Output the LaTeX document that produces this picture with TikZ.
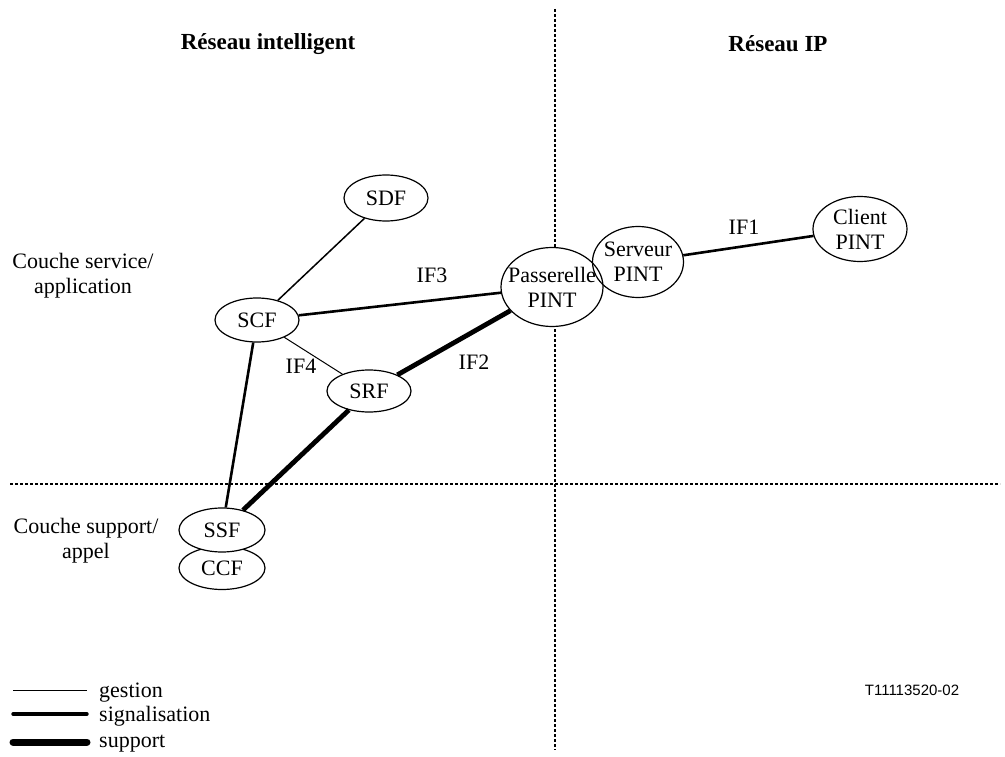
\documentclass[tikz,border=0pt]{standalone}
\usepackage{fontspec}
\setmainfont{Liberation Serif}
\newfontfamily\arialfont{Liberation Sans}
\usetikzlibrary{shapes.geometric}
\begin{document}
\begin{tikzpicture}[x=1pt,y=-1pt,
  every node/.style={font=\fontsize{22}{25}\selectfont},
  fn/.style={ellipse,draw,line width=1.2pt,fill=white,inner sep=0pt,align=center},
  fntwo/.style={ellipse,draw,line width=1.2pt,inner sep=0pt,
    label={[align=center,inner sep=0pt]center:#1}},
  divider/.style={line width=2pt,dash pattern=on 3pt off 2pt},
  gestion/.style={line width=1pt},
  liaison/.style={line width=1.5pt},
  signal/.style={line width=2.6pt},
  supportline/.style={line width=4.8pt},
  lbl/.style={inner sep=1pt}]
\useasboundingbox (0,0) rectangle (1005,757);
\fill[white] (0,0) rectangle (1005,757);

% domain dividers
\coordinate (vt) at (555,9);
\coordinate (vb) at (555,750);
\coordinate (hl) at (10,484);
\coordinate (hr) at (1000,484);
\draw[divider] (vt) -- (vb);
\draw[divider] (hl) -- (hr);

% headings and layer names
\node[font=\fontsize{23}{26}\selectfont\bfseries] (hin) at (268,44) {Réseau intelligent};
\node[font=\fontsize{23}{26}\selectfont\bfseries] (hip) at (778,44) {Réseau IP};
\node[align=center] (lsa) at (83,276) {Couche service/\\application};
\node[align=center] (lsu) at (86,541) {Couche support/\\appel};

% functional entities
\node[fn,minimum width=84pt,minimum height=46pt] (sdf) at (386,198) {SDF};
\node[fn,minimum width=84pt,minimum height=44pt] (scf) at (257,320) {SCF};
\node[fn,minimum width=84pt,minimum height=42pt] (srf) at (369,391) {SRF};
\node[fn,minimum width=86pt,minimum height=43pt] (ccf) at (222,568) {CCF};
\node[fn,minimum width=86pt,minimum height=44pt] (ssf) at (222,530) {SSF};
% the gateway is filled so that the divider stops at its outline
\node[fntwo={Passerelle\\PINT},fill=white,minimum width=102pt,minimum height=79pt] (pas) at (552,287) {};
\node[fntwo={Serveur\\PINT},minimum width=91pt,minimum height=71pt] (ser) at (638,262) {};
\node[fntwo={Client\\PINT},minimum width=94pt,minimum height=65pt] (cli) at (860,229) {};

% interfaces
\draw[liaison] (sdf) -- (scf);
\draw[signal] (scf) -- (pas);
\draw[gestion] (scf) -- (srf);
\draw[supportline] (srf) -- (pas);
\draw[signal] (scf) -- (ssf);
\draw[supportline] (srf) -- (ssf);
\draw[signal] (ser) -- (cli);

\node[lbl] (if3) at (432,275) {IF3};
\node[lbl] (if4) at (301,366) {IF4};
\node[lbl] (if2) at (474,362) {IF2};
\node[lbl] (if1) at (744,227) {IF1};

% legend
\coordinate (g1) at (13,690);
\coordinate (g2) at (87,690);
\coordinate (s1) at (13,714);
\coordinate (s2) at (87,714);
\coordinate (p1) at (13,742);
\coordinate (p2) at (87,742);
\draw[line width=1pt] (g1) -- (g2);
\draw[line width=3.4pt,line cap=round] (s1) -- (s2);
\draw[line width=7pt,line cap=round] (p1) -- (p2);
\node[anchor=base west,inner sep=0pt] (tg) at (99,697) {gestion};
\node[anchor=base west,inner sep=0pt] (ts) at (99,721) {signalisation};
\node[anchor=base west,inner sep=0pt] (tp) at (99,747) {support};

\node[font=\fontsize{15}{17}\arialfont,anchor=base] (ref) at (912,695) {T11113520-02};
\end{tikzpicture}
\end{document}
